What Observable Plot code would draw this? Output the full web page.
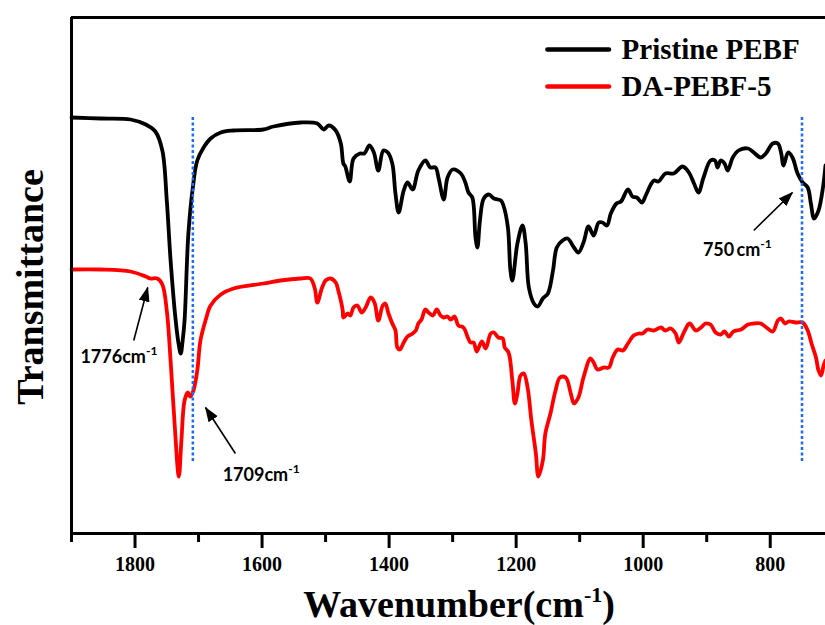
<!DOCTYPE html>
<html><head><meta charset="utf-8">
<script src="https://cdn.jsdelivr.net/npm/d3@7"></script>
<script src="https://cdn.jsdelivr.net/npm/@observablehq/plot@0.6"></script>
<style>body{margin:0;background:#fff;}</style>
</head><body><div id="chart"></div>
<script>
// Wavenumber (cm-1) and transmittance (a.u., offset curves)
const wnPristine = [1900,1854,1807,1783,1768,1757,1750,1744,1736,1731,1728,1725,1722,1716,1709,1702,1692,1681,1665,1645,1598,1582,1539,1513,1503,1495,1484,1476,1472,1469,1462,1456,1446,1439,1431,1424,1417,1409,1402,1395,1390,1385,1377,1371,1363,1354,1343,1335,1327,1322,1314,1308,1300,1287,1280,1275,1269,1264,1261,1257,1251,1243,1235,1224,1220,1213,1209,1206,1198,1190,1185,1180,1172,1166,1158,1150,1142,1136,1127,1119,1109,1102,1094,1086,1078,1070,1064,1057,1051,1042,1035,1024,1017,1010,1002,996,988,983,976,965,952,938,928,920,913,905,894,887,883,878,872,867,859,850,835,826,815,807,796,788,783,779,772,765,757,749,741,736,731,724,717,713];
const tPristine = [416,415,414,409,402,383,333,273,213,188,180,193,213,300,346,373,386,395,401,403,404,407,411,410,404,408,403,390,370,367,352,375,380,380,388,381,363,383,381,370,340,321,343,351,344,363,373,366,366,355,334,356,364,360,351,341,336,296,286,313,335,339,335,333,328,306,263,253,290,308,290,246,230,227,235,240,263,286,293,295,286,281,291,307,298,311,311,308,320,330,332,344,337,336,331,338,349,353,352,360,360,367,361,350,341,356,373,373,366,373,370,363,376,383,385,381,376,380,390,390,381,368,381,376,360,351,346,330,315,323,346,368];
const wnDA = [1900,1854,1807,1783,1776,1765,1757,1750,1744,1738,1731,1727,1722,1717,1713,1708,1702,1697,1689,1681,1665,1645,1598,1571,1539,1524,1517,1513,1506,1500,1492,1484,1480,1473,1472,1465,1461,1456,1450,1443,1437,1429,1423,1417,1410,1406,1401,1395,1390,1387,1383,1377,1371,1363,1358,1354,1349,1343,1338,1331,1325,1319,1314,1308,1303,1297,1291,1283,1276,1272,1267,1262,1254,1248,1240,1235,1228,1221,1218,1212,1206,1202,1198,1193,1188,1182,1176,1169,1165,1158,1154,1146,1138,1131,1122,1114,1109,1102,1094,1083,1078,1072,1062,1054,1048,1040,1032,1024,1015,1007,1001,993,983,972,965,957,949,944,936,927,917,909,902,894,886,878,872,865,858,846,835,826,815,806,796,788,783,777,771,760,749,741,735,728,724,720,716,713];
const tDA = [264,264,262,257,255,255,249,223,173,113,57,93,133,141,137,143,163,193,213,228,239,245,250,253,255,255,245,231,245,253,255,251,243,223,216,220,218,226,228,221,226,236,231,213,228,230,220,210,203,186,184,191,197,200,203,210,214,224,221,218,224,218,216,217,214,217,208,206,196,191,191,182,192,185,200,201,196,195,186,181,153,130,140,158,160,146,113,80,57,73,100,120,143,156,156,140,130,136,156,175,171,164,166,166,176,184,183,190,198,200,200,204,203,206,203,205,200,191,201,210,203,206,210,209,201,199,202,197,202,204,209,210,210,206,202,213,215,210,212,211,211,203,190,176,163,158,168,173];

const seriesNames = ["Pristine PEBF", "DA-PEBF-5"];
const seriesColors = ["#000000", "#ff0000"];
const majorTicks = [1800, 1600, 1400, 1200, 1000, 800];
const minorTicks = [1900, 1700, 1500, 1300, 1100, 900];
const guideLines = [1709, 750];

// annotations: label, text anchor point, arrow start and end (data units)
const annLabels = ["1776cm-1", "1709cm-1", "750\u2009cm-1"];
const annTextW = [1886, 1662, 906];
const annTextT = [176, 58, 283];
const annFromW = [1802, 1642, 826];
const annFromT = [193, 80, 303];
const annToW = [1780, 1689, 765];
const annToT = [246, 126, 341];

// legend positions (data units)
const legendLineW = [1150, 1053];
const legendTextW = 1034;
const legendT = [484, 447];

const pristine = wnPristine.map((w, i) => ({w, t: tPristine[i]}));
const da = wnDA.map((w, i) => ({w, t: tDA[i]}));
const ann = annLabels.map((label, i) => ({label, tx: annTextW[i], ty: annTextT[i], x1: annFromW[i], y1: annFromT[i], x2: annToW[i], y2: annToT[i]}));
const legend = seriesNames.map((name, i) => ({name, color: seriesColors[i], t: legendT[i]}));

const serif = "'Liberation Serif', 'Times New Roman', serif";
const sans = "Lato, 'Open Sans', sans-serif";

const chart = Plot.plot({
  width: 825, height: 625,
  marginLeft: 71, marginRight: 0, marginTop: 17, marginBottom: 92,
  x: {domain: [1900, 713], axis: null},
  y: {domain: [0, 516], axis: null},
  style: {fontFamily: serif, fontSize: "20px", fontWeight: "bold", background: "#fff", overflow: "visible"},
  marks: [
    Plot.line(pristine, {x: "w", y: "t", stroke: seriesColors[0], strokeWidth: 3.8, curve: "catmull-rom"}),
    Plot.line(da, {x: "w", y: "t", stroke: seriesColors[1], strokeWidth: 3.8, curve: "catmull-rom"}),
    Plot.ruleX(guideLines, {y1: 72, y2: 417, stroke: "#1a6cff", strokeWidth: 2.5, strokeDasharray: "3,2.5"}),
    Plot.ruleY([0, 516], {stroke: "#000", strokeWidth: 3}),
    Plot.ruleX([1900], {stroke: "#000", strokeWidth: 3}),
    Plot.axisX(majorTicks, {anchor: "bottom", tickSize: 15, strokeWidth: 3, tickPadding: 8, tickFormat: d => String(d), label: null, fontSize: 20, fontWeight: "bold", fontFamily: serif}),
    Plot.axisX(minorTicks, {anchor: "bottom", tickSize: 9, strokeWidth: 3, tickFormat: () => "", label: null}),
    Plot.link(ann, {x1: "x1", y1: "y1", x2: "x2", y2: "y2", stroke: "#000", strokeWidth: 1.6}),
    Plot.text(ann, {x: "tx", y: "ty", text: "label", textAnchor: "start", fontSize: 18, fontWeight: "bold", fontFamily: sans, fill: "#000"}),
    Plot.ruleY(legend, {y: "t", x1: legendLineW[0], x2: legendLineW[1], stroke: "color", strokeWidth: 4.5, strokeLinecap: "round"}),
    Plot.text(legend, {x: legendTextW, y: "t", text: "name", textAnchor: "start", fontSize: 29, fontWeight: "bold", fontFamily: serif, fill: "#000"})
  ]
});
document.getElementById("chart").appendChild(chart);

const svg = d3.select(chart);
svg.append("defs").append("marker")
  .attr("id", "fa").attr("viewBox", "0 -6 15 12").attr("refX", 14).attr("refY", 0)
  .attr("markerWidth", 15).attr("markerHeight", 12).attr("markerUnits", "userSpaceOnUse").attr("orient", "auto")
  .append("path").attr("d", "M0,-5.5L15,0L0,5.5Z").attr("fill", "#000");
svg.selectAll('g[aria-label="link"] path').attr("marker-end", "url(#fa)");

svg.selectAll("text").each(function () {
  const s = this.textContent;
  if (/^\d{3,4}$/.test(s)) {
    d3.select(this).style("font-family", serif).style("font-size", "20px").style("font-weight", "bold")
      .attr("font-family", serif).attr("font-size", 20).attr("font-weight", "bold");
    if (this.parentNode) d3.select(this.parentNode).style("font-family", serif).attr("font-family", serif);
  }
  const m = s.match(/^(.*)cm-1$/);
  if (m) {
    const el = d3.select(this);
    el.text(null);
    el.append("tspan").text(m[1] + "cm");
    el.append("tspan").attr("dy", -8).attr("font-size", 12).text("-1");
  }
});

const xl = svg.append("text").attr("x", 459).attr("y", 617).attr("text-anchor", "middle")
  .attr("font-family", serif).attr("font-weight", "bold").attr("font-size", 38).attr("fill", "#000");
xl.append("tspan").text("Wavenumber(cm");
xl.append("tspan").attr("dy", -15).attr("font-size", 22).text("-1");
xl.append("tspan").attr("dy", 15).text(")");

svg.append("text").attr("transform", "translate(30,287) rotate(-90)").attr("text-anchor", "middle")
  .attr("dy", "0.35em").attr("font-family", serif).attr("font-weight", "bold").attr("font-size", 38)
  .attr("fill", "#000").text("Transmittance");
</script>
</body></html>
